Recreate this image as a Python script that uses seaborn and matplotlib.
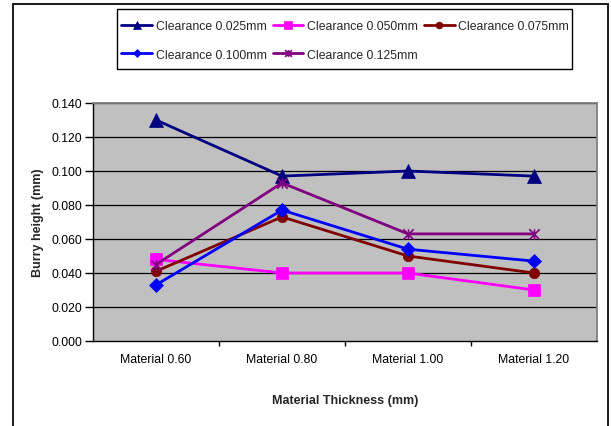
import matplotlib
matplotlib.use("Agg")
import matplotlib.pyplot as plt
from matplotlib.patches import Rectangle
from matplotlib.path import Path
import seaborn as sns

# Burr height measurements per material thickness and punch clearance
thickness = ["Material 0.60", "Material 0.80", "Material 1.00", "Material 1.20"]
clearance_labels = ["Clearance 0.025mm", "Clearance 0.050mm", "Clearance 0.075mm",
                    "Clearance 0.100mm", "Clearance 0.125mm"]
burr_0025 = [0.130, 0.097, 0.100, 0.097]
burr_0050 = [0.048, 0.040, 0.040, 0.030]
burr_0075 = [0.041, 0.073, 0.050, 0.040]
burr_0100 = [0.033, 0.077, 0.054, 0.047]
burr_0125 = [0.045, 0.093, 0.063, 0.063]
y_ticks = [0.000, 0.020, 0.040, 0.060, 0.080, 0.100, 0.120, 0.140]

# star marker: an X crossed by a vertical stroke
star = Path([(0, -1), (0, 1), (-1, -1), (1, 1), (-1, 1), (1, -1)],
            [Path.MOVETO, Path.LINETO, Path.MOVETO, Path.LINETO, Path.MOVETO, Path.LINETO])

series = [burr_0025, burr_0050, burr_0075, burr_0100, burr_0125]
colors = ["#000080", "#FF00FF", "#800000", "#0000FF", "#800080"]
markers = ["^", "s", "o", "D", star]
msizes = [9.5, 8, 7.5, 7, 7.5]

sns.set_theme(style="white")
plt.rcParams["font.family"] = ["Liberation Sans", "DejaVu Sans"]
plt.rcParams["font.size"] = 8.8

W, H = 611, 427
fig = plt.figure(figsize=(W / 100, H / 100), dpi=100)
fig.patch.set_facecolor("white")

ax = fig.add_axes([93 / W, 1 - 342 / H, (597 - 93) / W, (342 - 104) / H])
ax.set_facecolor("#C0C0C0")

for vals, lab, col, mk, ms in zip(series, clearance_labels, colors, markers, msizes):
    is_star = mk is star
    sns.lineplot(x=thickness, y=vals, ax=ax, color=col, marker=mk, markersize=ms,
                 markeredgecolor=col, markerfacecolor=col,
                 markeredgewidth=1.2 if is_star else 0.5,
                 linewidth=2.0, label=lab, zorder=3)

ax.set_xlim(-0.5, 3.5)
ax.set_ylim(0, 0.14)
ax.set_yticks(y_ticks)
ax.set_yticklabels([f"{v:.3f}" for v in y_ticks])
ax.set_xticks(range(len(thickness)))
ax.set_xticklabels(thickness)
ax.set_xticks([0.5, 1.5, 2.5], minor=True)

ax.grid(False)
for v in y_ticks[1:]:
    ax.axhline(v, color="black", linewidth=0.9, zorder=1)

ax.tick_params(axis="y", which="major", direction="out", length=6, width=1,
               color="black", labelsize=8.8, labelcolor="black", pad=2, left=True)
ax.tick_params(axis="x", which="major", length=0, labelsize=8.8, labelcolor="black", pad=9)
ax.tick_params(axis="x", which="minor", direction="out", length=3.5, width=1,
               color="black", bottom=True)

for side in ["left", "bottom"]:
    ax.spines[side].set_color("black")
    ax.spines[side].set_linewidth(1.0)
for side in ["top", "right"]:
    ax.spines[side].set_color("#808080")
    ax.spines[side].set_linewidth(1.3)
    ax.spines[side].set_visible(True)

ax.set_xlabel("Material Thickness (mm)", fontsize=9, fontweight="bold")
ax.set_ylabel("Burry height (mm)", fontsize=9, fontweight="bold")
ax.xaxis.set_label_coords(0.5, -0.222)
ax.yaxis.set_label_coords(-0.097, 0.5)

# legend: three columns, filled so that the first row holds 0.025/0.050/0.075;
# its box is drawn as a separate rectangle so the padding can differ per side
h, l = ax.get_legend_handles_labels()
order = [0, 3, 1, 4, 2]
leg = ax.legend([h[i] for i in order], [l[i] for i in order], ncol=3,
                loc="upper left", bbox_to_anchor=(117 / W, 1 - 17 / H),
                bbox_transform=fig.transFigure, frameon=False, fontsize=8.8,
                handlelength=2.5, handletextpad=0.3, columnspacing=0.5,
                labelspacing=1.33, borderpad=0.35, borderaxespad=0)
for hd in leg.legend_handles:
    hd.set_markersize(hd.get_markersize() * 0.65)
fig.patches.append(Rectangle((117 / W, 1 - 70 / H), (572 - 117) / W, 60 / H,
                             transform=fig.transFigure, fill=False,
                             edgecolor="black", linewidth=1.0))

# outer chart frame
fig.patches.append(Rectangle((13 / W, -0.1), (608 - 13) / W, 1.1 - 5 / H,
                             transform=fig.transFigure, fill=False,
                             edgecolor="#1a1a1a", linewidth=1.4))

fig.savefig("out.png", dpi=100)
